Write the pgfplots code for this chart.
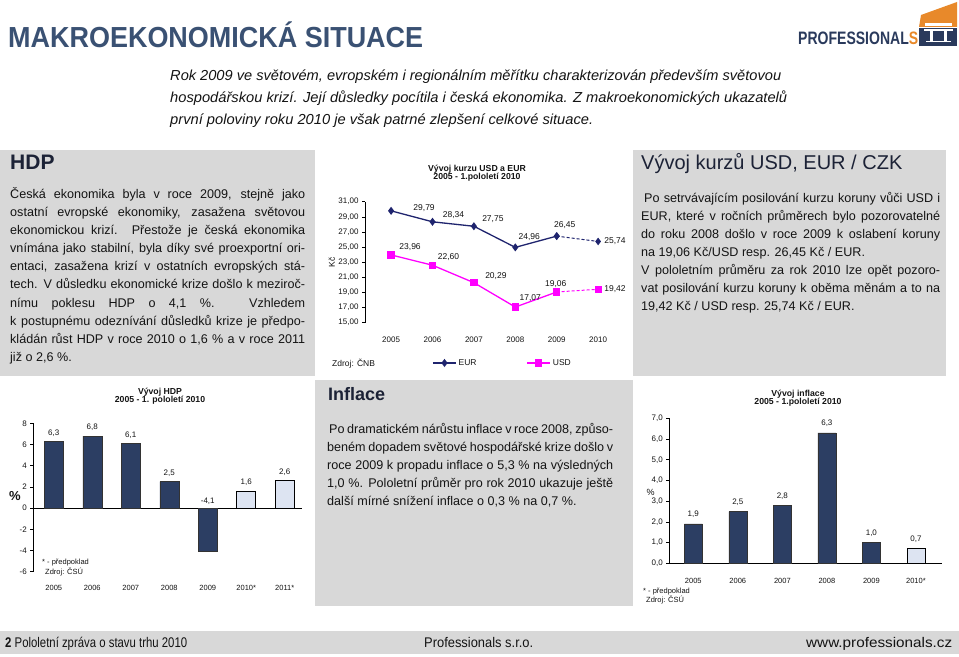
\documentclass[border=0pt]{standalone}
\usepackage{pgfplots}
\pgfplotsset{compat=1.18}
\usepackage{fontspec}
\setmainfont{Liberation Sans}
\definecolor{boxgray}{HTML}{D8D8D8}
\definecolor{titleblue}{HTML}{3A5173}
\definecolor{barnavy}{HTML}{2C3E63}
\definecolor{barlight}{HTML}{DDE4F2}
\definecolor{eurblue}{HTML}{1F246E}
\definecolor{usdmag}{HTML}{FF00FF}
\definecolor{txt}{HTML}{141414}
\definecolor{head}{HTML}{1C2236}
\definecolor{logonavy}{HTML}{2A3A5C}
\definecolor{logoorange}{HTML}{E8892A}
\newcommand{\fs}[1]{\fontsize{#1bp}{#1bp}\selectfont}
\newcommand{\jl}[2]{\makebox[#1bp][s]{#2}}
\tikzset{
  labl/.style={font=\fs{8.5}, text=txt, inner sep=0},
  labb/.style={font=\fs{8}, text=txt, inner sep=0, anchor=south},
  body/.style={anchor=base west, inner sep=0, text=txt, font=\fs{12.6}},
}
\begin{document}
\begin{tikzpicture}
\begin{scope}[x=1bp,y=1bp]
\useasboundingbox (0,0) rectangle (959,657);
\fill[white] (0,0) rectangle (959,657);
% grey boxes
\fill[boxgray] (0,{657-376}) rectangle (315,{657-150});
\fill[boxgray] (633,{657-376}) rectangle (946,{657-150});
\fill[boxgray] (315,{657-606}) rectangle (633,{657-380});
\fill[boxgray] (0,{657-654}) rectangle (959,{657-631});
% title
\node[anchor=base west, inner sep=0, text=titleblue] at (8,{657-48}) {\resizebox{415bp}{\height}{\fs{29}\bfseries MAKROEKONOMICKÁ SITUACE}};
% logo
\node[anchor=base west, inner sep=0, text=logonavy] at (798,{657-45}) {\resizebox{120bp}{\height}{\fs{18}\bfseries PROFESSIONAL\textcolor{logoorange}{S}}};
\fill[logoorange] (919,{657-27}) -- (921,{657-15}) -- (957,{657-2}) -- (957,{657-27}) -- cycle;
\fill[white] (925,{657-26}) rectangle (952,{657-23});
\fill[logonavy] (919,{657-46}) rectangle (957,{657-28});
\fill[white] (924,{657-31}) rectangle (953,{657-29.5});
\fill[white] (930,{657-41}) rectangle (932.5,{657-31});
\fill[white] (944,{657-41}) rectangle (946.5,{657-31});
\fill[white] (926,{657-42.5}) rectangle (951,{657-41});
% italic intro
\node[anchor=base west, inner sep=0, text=txt] at (170,{657-81}) {\resizebox{611bp}{\height}{\fs{14.5}\itshape Rok 2009 ve světovém, evropském i regionálním měřítku charakterizován především světovou}};
\node[anchor=base west, inner sep=0, text=txt] at (170,{657-103}) {\resizebox{617bp}{\height}{\fs{14.5}\itshape hospodářskou krizí. Její důsledky pocítila i česká ekonomika. Z makroekonomických ukazatelů}};
\node[anchor=base west, inner sep=0, text=txt] at (170,{657-125}) {\resizebox{423bp}{\height}{\fs{14.5}\itshape první poloviny roku 2010 je však patrné zlepšení celkové situace.}};
% headings
\node[anchor=base west, inner sep=0, text=head] at (10,{657-170}) {\fs{21}\bfseries HDP};
\node[anchor=base west, inner sep=0, text=head] at (641,{657-170}) {\fs{20}Vývoj kurzů USD, EUR / CZK};
\node[anchor=base west, inner sep=0, text=head] at (328,{657-401}) {\fs{18}\bfseries Inflace};
% HDP text
\node[body] at (10,{657-198.5}) {\jl{295}{Česká ekonomika byla v roce 2009, stejně jako}};
\node[body] at (10,{657-216.6}) {\jl{295}{ostatní evropské ekonomiky, zasažena světovou}};
\node[body] at (10,{657-234.7}) {\jl{295}{ekonomickou krizí. Přestože je česká ekonomika}};
\node[body] at (10,{657-252.8}) {\jl{295}{vnímána jako stabilní, byla díky  své proexportní ori-}};
\node[body] at (10,{657-270.9}) {\jl{295}{entaci, zasažena krizí v ostatních evropských stá-}};
\node[body] at (10,{657-289.0}) {\jl{295}{tech. V důsledku ekonomické krize došlo k meziroč-}};
\node[body] at (10,{657-307.1}) {\jl{295}{nímu poklesu HDP o 4,1 \%. Vzhledem}};
\node[body] at (10,{657-325.2}) {\jl{295}{k postupnému odeznívání důsledků krize je předpo-}};
\node[body] at (10,{657-343.3}) {\jl{295}{kládán růst HDP v roce 2010 o 1,6 \% a v roce 2011}};
\node[body] at (10,{657-361.4}) {již o 2,6 \%.};
% kurz text
\node[body] at (644,{657-203}) {\jl{296}{Po setrvávajícím posilování kurzu koruny vůči USD i}};
\node[body] at (641,{657-221}) {\jl{299}{EUR, které v ročních průměrech bylo pozorovatelné}};
\node[body] at (641,{657-239}) {\jl{299}{do roku 2008 došlo v roce 2009 k oslabení koruny}};
\node[body] at (641,{657-257}) {na 19,06 Kč/USD resp. 26,45 Kč / EUR.};
\node[body] at (641,{657-275}) {\jl{299}{V pololetním průměru za rok 2010 lze opět pozoro-}};
\node[body] at (641,{657-293}) {\jl{299}{vat posilování kurzu koruny k oběma měnám a to na}};
\node[body] at (641,{657-311}) {19,42 Kč / USD resp. 25,74 Kč / EUR.};
% inflace text
\node[body] at (329,{657-434}) {\jl{284}{Po dramatickém nárůstu inflace v roce 2008, způso-}};
\node[body] at (327,{657-452}) {\jl{286}{beném dopadem světové hospodářské krize došlo v}};
\node[body] at (327,{657-470}) {\jl{286}{roce 2009 k propadu inflace o 5,3 \% na výsledných}};
\node[body] at (327,{657-488}) {\jl{286}{1,0 \%. Pololetní průměr pro rok 2010 ukazuje ještě}};
\node[body] at (327,{657-506}) {další mírné snížení inflace o 0,3 \% na 0,7 \%.};
% chart titles
\node[align=center, inner sep=0, text=txt, font=\fs{8.7}\bfseries] at (477,{657-173}) {Vývoj kurzu USD a EUR\\[-0.5bp]2005 - 1.pololetí 2010};
\node[align=center, inner sep=0, text=txt, font=\fs{8.7}\bfseries] at (160,{657-396}) {Vývoj HDP\\[-0.5bp]2005 - 1. pololetí 2010};
\node[align=center, inner sep=0, text=txt, font=\fs{8.7}\bfseries] at (798,{657-398}) {Vývoj inflace\\[-0.5bp]2005 - 1.pololetí 2010};
% notes
\node[anchor=base west, inner sep=0, text=txt, font=\fs{8.5}] at (332,{657-367}) {Zdroj: ČNB};
\node[anchor=base west, inner sep=0, text=txt, font=\fs{7.5}] at (42,{657-565}) {* - předpoklad};
\node[anchor=base west, inner sep=0, text=txt, font=\fs{7.5}] at (45,{657-575}) {Zdroj: ČSÚ};
\node[anchor=base west, inner sep=0, text=txt, font=\fs{7.5}] at (643,{657-594}) {* - předpoklad};
\node[anchor=base west, inner sep=0, text=txt, font=\fs{7.5}] at (646,{657-603}) {Zdroj: ČSÚ};
\node[inner sep=0, text=txt, font=\fs{13}\bfseries] at (15,{657-496}) {\%};
\node[inner sep=0, text=txt, font=\fs{9}] at (650.5,{657-492}) {\%};
% footer
\node[anchor=base west, inner sep=0, text=txt] at (5,{657-648}) {\resizebox{182bp}{\height}{\fs{14}\textbf{2} Pololetní zpráva o stavu trhu 2010}};
\node[anchor=base west, inner sep=0, text=txt] at (424,{657-648}) {\resizebox{109bp}{\height}{\fs{14}Professionals s.r.o.}};
\node[anchor=base west, inner sep=0, text=txt] at (806,{657-648}) {\resizebox{146bp}{\height}{\fs{14}www.professionals.cz}};
\end{scope}

% ===== exchange-rate chart =====
\begin{axis}[
  at={(365bp,334.3bp)}, anchor=south west,
  scale only axis, width=253.8bp, height=121bp,
  xmin=2004.37, xmax=2010.5, ymin=15, ymax=31,
  axis y line=left, axis x line=bottom,
  axis line style={-},
  every outer x axis line/.append style={-},
  every outer y axis line/.append style={-},
  x axis line style={draw=none},
  y axis line style={black, line width=0.6bp},
  xtick={2005,2006,2007,2008,2009,2010},
  xticklabels={2005,2006,2007,2008,2009,2010},
  xtick style={draw=none},
  ytick={15,17,19,21,23,25,27,29,31},
  ytick style={black, line width=0.6bp},
  tick align=outside, major tick length=3bp,
  tick label style={font=\fs{8}, text=txt},
  yticklabel style={/pgf/number format/fixed, /pgf/number format/fixed zerofill, /pgf/number format/precision=2, /pgf/number format/use comma},
  xticklabel style={yshift=-8bp},
  /pgf/number format/assume math mode=true,
  ylabel={Kč}, ylabel style={font=\fs{8.5}, text=txt, at={(axis description cs:-0.131,0.5)}, anchor=center},
  clip=false,
  legend columns=2,
  legend style={at={(axis description cs:0.542,-0.333)}, anchor=center, draw=none, fill=none, font=\fs{8.5}, text=txt, /tikz/every even column/.append style={column sep=48bp}},
  legend image code/.code={\draw[mark repeat=2,mark phase=2,#1] plot coordinates {(0bp,0bp) (11.5bp,0bp) (23bp,0bp)};},
]
\addplot[eurblue, line width=1.3bp, mark=diamond*, mark size=3bp, mark options={solid}] coordinates {(2005,29.79) (2006,28.34) (2007,27.75) (2008,24.96) (2009,26.45)};
\addlegendentry{EUR}
\addplot[usdmag, line width=1.3bp, mark=square*, mark size=3bp, mark options={solid}] coordinates {(2005,23.96) (2006,22.60) (2007,20.29) (2008,17.07) (2009,19.06)};
\addlegendentry{USD}
\addplot[eurblue, line width=1bp, dash pattern=on 3bp off 2bp, mark=diamond*, mark size=3bp, mark options={solid}, forget plot] coordinates {(2009,26.45) (2010,25.74)};
\addplot[usdmag, line width=1bp, dash pattern=on 3bp off 2bp, mark=square*, mark size=3bp, mark options={solid}, forget plot] coordinates {(2009,19.06) (2010,19.42)};
\node[labl, xshift=33bp, yshift=3bp] at (axis cs:2005,29.79) {29,79};
\node[labl, xshift=21bp, yshift=7bp] at (axis cs:2006,28.34) {28,34};
\node[labl, xshift=19bp, yshift=7bp] at (axis cs:2007,27.75) {27,75};
\node[labl, xshift=14bp, yshift=10bp] at (axis cs:2008,24.96) {24,96};
\node[labl, xshift=8bp, yshift=11bp] at (axis cs:2009,26.45) {26,45};
\node[labl, anchor=west, xshift=6bp] at (axis cs:2010,25.74) {25,74};
\node[labl, xshift=19bp, yshift=8bp] at (axis cs:2005,23.96) {23,96};
\node[labl, xshift=16bp, yshift=8bp] at (axis cs:2006,22.60) {22,60};
\node[labl, xshift=22bp, yshift=7bp] at (axis cs:2007,20.29) {20,29};
\node[labl, xshift=15bp, yshift=9bp] at (axis cs:2008,17.07) {17,07};
\node[labl, xshift=-1bp, yshift=8bp] at (axis cs:2009,19.06) {19,06};
\node[labl, anchor=west, xshift=6bp] at (axis cs:2010,19.42) {19,42};
\end{axis}

% ===== HDP chart =====
\begin{axis}[
  at={(33.3bp,85.3bp)}, anchor=south west,
  scale only axis, width=268.4bp, height=148.4bp,
  xmin=-0.532, xmax=6.44, ymin=-6, ymax=8,
  axis y line=left, axis x line=bottom,
  axis line style={-},
  every outer x axis line/.append style={-},
  every outer y axis line/.append style={-},
  x axis line style={draw=none},
  y axis line style={black, line width=0.6bp},
  xtick={0,1,2,3,4,5,6},
  xticklabels={2005,2006,2007,2008,2009,2010*,2011*},
  xtick style={draw=none},
  ytick={-6,-4,-2,0,2,4,6,8},
  ytick style={black, line width=0.6bp},
  extra y ticks={0}, extra y tick labels={},
  extra y tick style={grid=major, major grid style={black, line width=0.6bp}},
  tick align=outside, major tick length=3bp,
  tick label style={font=\fs{7.5}, text=txt},
  yticklabel style={font=\fs{8}},
  xticklabel style={yshift=-7bp},
  /pgf/number format/assume math mode=true,
  clip=false,
  ybar, bar width=19bp,
]
\addplot[fill=barnavy, draw=black!80, line width=0.4bp, bar shift=0bp] coordinates {(0,6.3) (1,6.8) (2,6.1) (3,2.5) (4,-4.1)};
\addplot[fill=barlight, draw=black, line width=0.6bp, bar shift=0bp] coordinates {(5,1.6) (6,2.6)};
\node[labb, yshift=5bp] at (axis cs:0,6.3) {6,3};
\node[labb, yshift=5bp] at (axis cs:1,6.8) {6,8};
\node[labb, yshift=5bp] at (axis cs:2,6.1) {6,1};
\node[labb, yshift=5bp] at (axis cs:3,2.5) {2,5};
\node[labb, yshift=3bp] at (axis cs:4,0) {-4,1};
\node[labb, yshift=5bp] at (axis cs:5,1.6) {1,6};
\node[labb, yshift=5bp] at (axis cs:6,2.6) {2,6};
\end{axis}

% ===== inflation chart =====
\begin{axis}[
  at={(669.3bp,93.7bp)}, anchor=south west,
  scale only axis, width=272.4bp, height=145bp,
  xmin=-0.539, xmax=5.58, ymin=0, ymax=7,
  axis y line=left, axis x line=bottom,
  axis line style={-, black, line width=0.6bp},
  every outer x axis line/.append style={-},
  every outer y axis line/.append style={-},
  xtick={0,1,2,3,4,5},
  xticklabels={2005,2006,2007,2008,2009,2010*},
  xtick style={draw=none},
  ytick={0,1,2,3,4,5,6,7},
  ytick style={black, line width=0.6bp},
  tick align=outside, major tick length=3bp,
  tick label style={font=\fs{7.5}, text=txt},
  yticklabel style={font=\fs{8}, /pgf/number format/fixed, /pgf/number format/fixed zerofill, /pgf/number format/precision=1, /pgf/number format/use comma},
  xticklabel style={yshift=-8bp},
  /pgf/number format/assume math mode=true,
  clip=false,
  ybar, bar width=18bp,
]
\addplot[fill=barnavy, draw=black!80, line width=0.4bp, bar shift=0bp] coordinates {(0,1.9) (1,2.5) (2,2.8) (3,6.3) (4,1.0)};
\addplot[fill=barlight, draw=black, line width=0.6bp, bar shift=0bp] coordinates {(5,0.7)};
\node[labb, yshift=6bp] at (axis cs:0,1.9) {1,9};
\node[labb, yshift=6bp] at (axis cs:1,2.5) {2,5};
\node[labb, yshift=6bp] at (axis cs:2,2.8) {2,8};
\node[labb, yshift=6bp] at (axis cs:3,6.3) {6,3};
\node[labb, yshift=6bp] at (axis cs:4,1.0) {1,0};
\node[labb, yshift=6bp] at (axis cs:5,0.7) {0,7};
\end{axis}
\end{tikzpicture}
\end{document}
